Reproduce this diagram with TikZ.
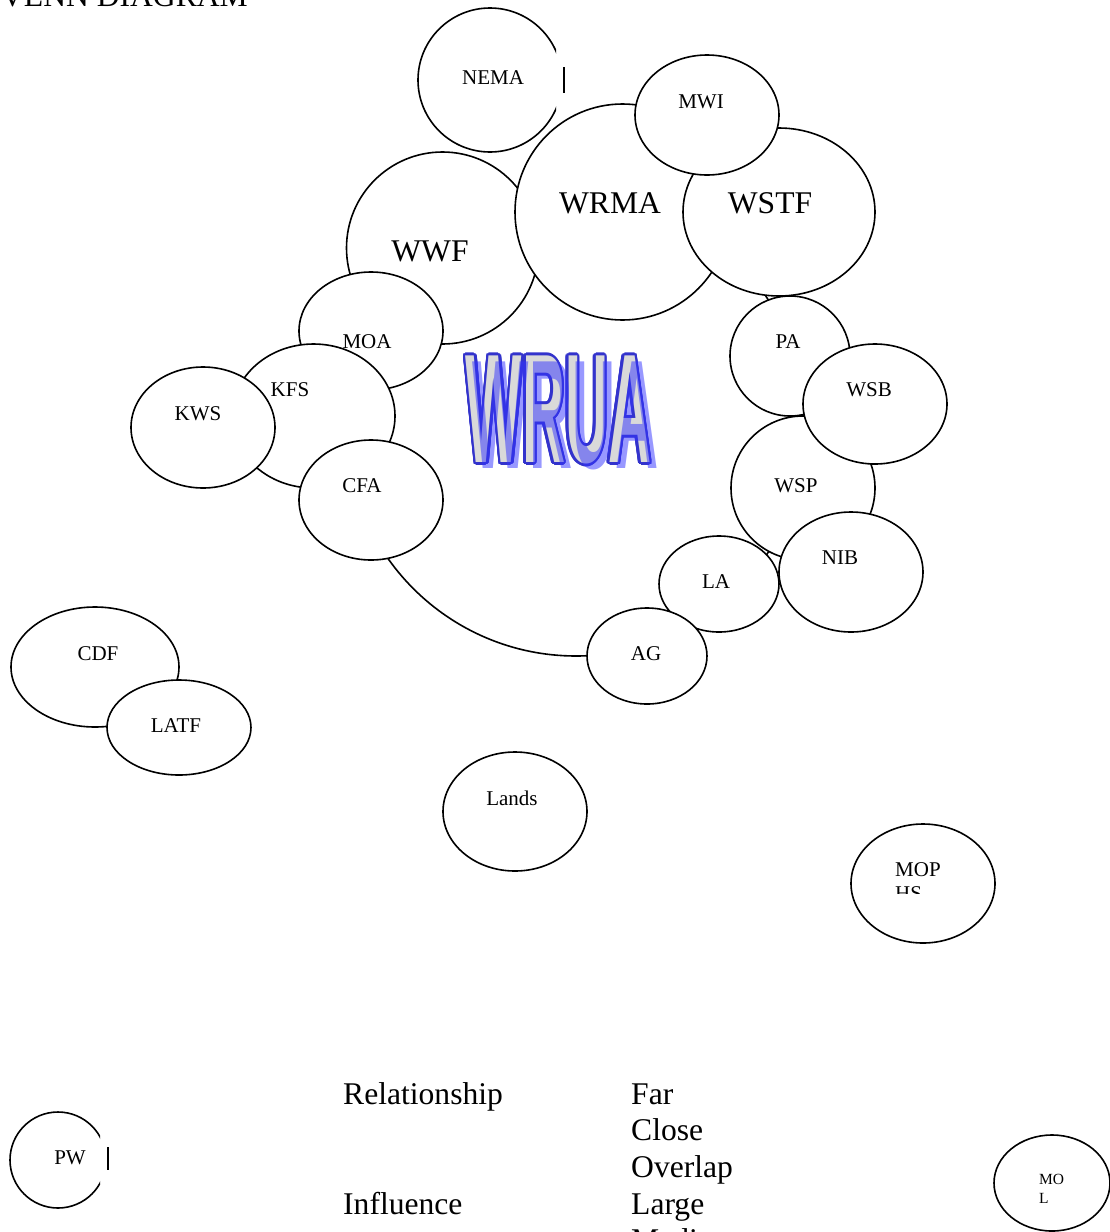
\documentclass[tikz,border=0pt]{standalone}
\usepackage{fontspec}
\usepackage{graphicx}
\setmainfont{Liberation Serif}
\newfontfamily\wfont{Liberation Sans}
\usetikzlibrary{shapes.geometric}
\definecolor{wblue}{HTML}{3333CC}
\definecolor{wgray}{HTML}{D9D9D9}
\definecolor{wshadow}{HTML}{3333FF}
\newcommand\wruatxt{\scalebox{0.385}[1]{\wfont\bfseries\fontsize{155}{155}\selectfont WRUA}}
\tikzset{
  ell/.style={draw=black, fill=white, ellipse, line width=1.6pt, inner sep=0pt},
  circ/.style={draw=black, fill=white, circle, line width=1.6pt, inner sep=0pt},
  edgeline/.style={draw=black, line width=1.6pt},
  sm/.style={font=\fontsize{21}{25}\selectfont, inner sep=0pt},
  xs/.style={font=\fontsize{15.5}{19}\selectfont, inner sep=0pt},
  lg/.style={font=\fontsize{31.6}{36.7}\selectfont, inner sep=0pt},
  wtxt/.style={inner sep=0pt},
}
\begin{document}
\begin{tikzpicture}[x=1pt,y=-1pt]
\useasboundingbox (0,0) rectangle (1110,1232);
\clip (0,0) rectangle (1110,1232);
% title
\node[lg, anchor=base east] (title) at (248,6) {VENN DIAGRAM};
% big WRUA circle
\node[circ, minimum size=460pt] (wrua) at (576,426) {};
% circles around
\node[circ, minimum size=192pt] (wwf) at (442.5,248) {};
\node[ell, minimum width=144pt, minimum height=118pt] (moa) at (371,331) {};
\node[ell, minimum width=163pt, minimum height=144pt] (kfs) at (313.5,416) {};
\node[ell, minimum width=144pt, minimum height=121pt] (kws) at (203,427.5) {};
\node[ell, minimum width=144pt, minimum height=120pt] (cfa) at (371,500) {};
\node[ell, minimum width=144pt, minimum height=144pt] (wsp) at (803,488) {};
\node[ell, minimum width=120pt, minimum height=120pt] (pa) at (790,356) {};
\node[ell, minimum width=144pt, minimum height=120pt] (wsb) at (875,404) {};
\node[ell, minimum width=144pt, minimum height=120pt] (nib) at (851,572) {};
\node[ell, minimum width=120pt, minimum height=96pt] (la) at (719,584) {};
\node[ell, minimum width=120pt, minimum height=96pt] (ag) at (647,656) {};
\node[ell, minimum width=215pt, minimum height=216pt] (wrma) at (622.5,212) {};
\node[ell, minimum width=192pt, minimum height=168pt] (wstf) at (779,212) {};
\node[ell, minimum width=144pt, minimum height=120pt] (mwi) at (707,115) {};
\begin{scope}
  \clip (400,0) rectangle (556,170);
  \node[circ, minimum size=144pt] (nema) at (490,80) {};
\end{scope}
\draw[edgeline] ([shift={(1,-13)}]nema.east) -- ([shift={(1,13)}]nema.east);
% outer entities
\node[ell, minimum width=168pt, minimum height=120pt] (cdf) at (95,667) {};
\node[ell, minimum width=144pt, minimum height=95pt] (latf) at (179,727.5) {};
\node[ell, minimum width=144pt, minimum height=119pt] (lands) at (515,811.5) {};
\node[ell, minimum width=144pt, minimum height=119pt] (mophs) at (923,883.5) {};
\begin{scope}
  \clip (0,1100) rectangle (100,1232);
  \node[circ, minimum size=96pt] (pw) at (58,1160) {};
\end{scope}
\draw[edgeline] ([shift={(1,-13)}]pw.east) -- ([shift={(1,10)}]pw.east);
\node[ell, minimum width=116pt, minimum height=96pt] (mol) at (1052,1183) {};
% WRUA word art
\foreach \a in {0,22.5,...,337.5}
  \path (558.5,410) ++(\a:2.6) node[wtxt, text=wblue] {\wruatxt};
\node[wtxt, text=wgray] (wruatext) at (558.5,410) {\wruatxt};
\node[wtxt, text=wshadow, text opacity=0.5] (wruashadow) at (565.5,416) {\wruatxt};
% labels
\node[sm] (tnema) at (493,78) {NEMA};
\node[sm] (tmwi) at (701,102) {MWI};
\node[lg] (twrma) at (610,203) {WRMA};
\node[lg] (twstf) at (770,203) {WSTF};
\node[lg] (twwf) at (430,251) {WWF};
\node[sm] (tmoa) at (367,342) {MOA};
\node[sm] (tkfs) at (290,390) {KFS};
\node[sm] (tkws) at (198,414) {KWS};
\node[sm] (tcfa) at (362,486) {CFA};
\node[sm] (tpa) at (788,342) {PA};
\node[sm] (twsb) at (869,390) {WSB};
\node[sm] (twsp) at (796,486) {WSP};
\node[sm] (tnib) at (840,558) {NIB};
\node[sm] (tla) at (716,582) {LA};
\node[sm] (tag) at (646,654) {AG};
\node[sm] (tcdf) at (98,654) {CDF};
\node[sm] (tlatf) at (176,726) {LATF};
\node[sm] (tlands) at (512,798) {Lands};
\node[sm, anchor=west] (tmop) at (895,870) {MOP};
\begin{scope}
  \clip (850,824) rectangle (1000,893);
  \node[sm, anchor=west] (ths) at (895,894) {HS};
\end{scope}
\node[sm] (tpw) at (70,1158) {PW};
\node[xs, anchor=west] (tmo) at (1039,1179) {MO};
\node[xs, anchor=west] (tl) at (1039,1198) {L};
% legend
\node[lg, anchor=base west] (lrel) at (343,1104) {Relationship};
\node[lg, anchor=base west] (linf) at (343,1214) {Influence};
\node[lg, anchor=base west] (lfar) at (631,1104) {Far};
\node[lg, anchor=base west] (lclose) at (631,1140.7) {Close};
\node[lg, anchor=base west] (loverlap) at (631,1177.4) {Overlap};
\node[lg, anchor=base west] (llarge) at (631,1214) {Large};
\node[lg, anchor=base west] (lmedium) at (631,1250.8) {Medium};
\end{tikzpicture}
\end{document}
